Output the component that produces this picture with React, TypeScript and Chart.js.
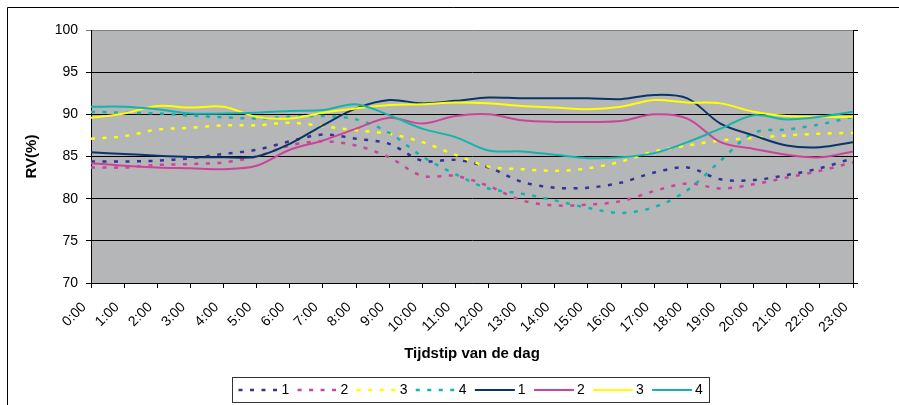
import React, { useEffect, useRef } from 'react';
import { Chart, registerables } from 'chart.js';

Chart.register(...registerables);

const FONT = '"Liberation Sans", Arial, Helvetica, sans-serif';

// Categories (hour of day)
const HOURS = [
  '0:00', '1:00', '2:00', '3:00', '4:00', '5:00', '6:00', '7:00', '8:00', '9:00', '10:00', '11:00',
  '12:00', '13:00', '14:00', '15:00', '16:00', '17:00', '18:00', '19:00', '20:00', '21:00', '22:00', '23:00',
];

// Y-axis range / ticks
const Y_MIN = 70;
const Y_MAX = 100;
const Y_STEP = 5;

// Dashed series (RV %)
const dashed1 = [84.4, 84.4, 84.5, 84.8, 85.3, 85.8, 86.8, 87.6, 87.1, 86.5, 84.5, 84.6, 83.7, 82.0, 81.3, 81.3, 81.9, 83.1, 83.7, 82.3, 82.2, 82.8, 83.6, 84.8];
const dashed2 = [83.7, 83.7, 84.0, 84.1, 84.3, 85.0, 86.3, 86.8, 86.3, 84.9, 82.7, 82.7, 81.5, 79.8, 79.2, 79.3, 79.7, 80.9, 81.8, 81.2, 81.7, 82.5, 83.3, 84.3];
const dashed3 = [87.1, 87.4, 88.2, 88.4, 88.7, 88.7, 89.0, 88.6, 88.1, 87.7, 86.7, 85.2, 83.8, 83.5, 83.3, 83.6, 84.4, 85.6, 86.3, 86.9, 87.2, 87.5, 87.7, 87.8];
const dashed4 = [90.3, 90.2, 90.1, 89.85, 89.65, 89.5, 89.7, 89.8, 89.4, 87.8, 85.0, 82.9, 81.2, 80.6, 79.8, 78.9, 78.3, 79.0, 81.0, 84.5, 87.8, 88.2, 88.8, 89.7];

// Solid series (RV %)
const solid1 = [85.5, 85.3, 85.1, 84.95, 84.9, 85.0, 86.5, 88.7, 90.7, 91.7, 91.3, 91.6, 92.0, 91.9, 91.9, 91.9, 91.8, 92.3, 91.9, 88.9, 87.5, 86.3, 86.1, 86.7];
const solid2 = [84.2, 83.9, 83.7, 83.6, 83.5, 83.9, 85.8, 86.9, 88.3, 89.6, 88.9, 89.8, 90.0, 89.3, 89.1, 89.1, 89.2, 90.0, 89.5, 86.7, 85.9, 85.2, 84.9, 85.6];
const solid3 = [89.6, 90.1, 91.0, 90.8, 90.9, 89.7, 89.5, 90.2, 90.7, 91.1, 91.2, 91.4, 91.3, 91.0, 90.8, 90.6, 90.9, 91.7, 91.4, 91.3, 90.3, 89.8, 89.7, 89.7];
const solid4 = [90.9, 90.9, 90.6, 90.1, 90.1, 90.2, 90.4, 90.5, 91.2, 89.9, 88.3, 87.3, 85.7, 85.6, 85.2, 84.8, 84.9, 85.4, 86.7, 88.3, 89.9, 89.4, 89.7, 90.3];

const SERIES_LABELS = ['1', '2', '3', '4', '1', '2', '3', '4'];

const NAVY_DASH = '#333399';
const PINK = '#CC4499';
const YELLOW = '#FFFF00';
const TEAL = '#14B4AE';
const NAVY = '#0B3566';
const PLOT_BG = '#b4b6b8';
const DASH = [4, 7.5];

const framePlugin = {
  id: 'frameAndBg',
  beforeDraw(chart: any) {
    const { ctx, chartArea: a } = chart;
    ctx.save();
    ctx.fillStyle = '#ffffff';
    ctx.fillRect(0, 0, chart.width, chart.height);
    ctx.strokeStyle = '#000';
    ctx.lineWidth = 1;
    ctx.beginPath();
    ctx.moveTo(7.5, chart.height);
    ctx.lineTo(7.5, 7.5);
    ctx.lineTo(chart.width, 7.5);
    ctx.stroke();
    ctx.fillStyle = PLOT_BG;
    ctx.fillRect(a.left, a.top, a.right - a.left, a.bottom - a.top);
    ctx.restore();
  },
};

const boxLegendPlugin = {
  id: 'boxLegend',
  afterDraw(chart: any) {
    const { ctx, chartArea: a } = chart;
    const items = chart.data.datasets;
    ctx.save();
    ctx.font = `14px ${FONT}`;
    const sampleW = 40;
    const gap = 3;
    const spacing = 8.3;
    const padL = 6;
    const padR = 6.7;
    const widths = items.map((ds: any) => sampleW + gap + ctx.measureText(ds.label).width);
    const total = padL + padR + widths.reduce((s: number, w: number) => s + w, 0) + spacing * (items.length - 1);
    const cx = (a.left + a.right) / 2 - 1.3;
    const left = Math.round(cx - total / 2) + 0.5;
    const top = 377.5;
    const h = 25;
    ctx.strokeStyle = '#333';
    ctx.lineWidth = 1;
    ctx.strokeRect(left, top, Math.round(total), h);
    let x = left + padL;
    const cy = top + h / 2;
    items.forEach((ds: any, i: number) => {
      ctx.save();
      ctx.strokeStyle = ds.borderColor;
      ctx.lineWidth = ds.borderWidth;
      ctx.setLineDash(ds.borderDash || []);
      ctx.beginPath();
      ctx.moveTo(x, Math.round(cy));
      ctx.lineTo(x + sampleW, Math.round(cy));
      ctx.stroke();
      ctx.restore();
      ctx.fillStyle = '#000';
      ctx.textAlign = 'left';
      ctx.textBaseline = 'middle';
      ctx.fillText(ds.label, x + sampleW + gap, cy + 0.5);
      x += widths[i] + spacing;
    });
    ctx.restore();
  },
};

export default function App() {
  const canvasRef = useRef<HTMLCanvasElement | null>(null);

  useEffect(() => {
    const canvas = canvasRef.current;
    if (!canvas) return;

    const mk = (i: number, data: number[], color: string, dashed: boolean) => ({
      label: SERIES_LABELS[i],
      data,
      borderColor: color,
      backgroundColor: color,
      borderWidth: dashed ? 2.5 : 2,
      borderDash: dashed ? DASH : [],
      pointRadius: 0,
      pointHoverRadius: 0,
      tension: 0.33,
      fill: false,
      order: 7 - i,
    });

    const chart = new Chart(canvas, {
      type: 'line',
      data: {
        labels: HOURS,
        datasets: [
          mk(0, dashed1, NAVY_DASH, true),
          mk(1, dashed2, PINK, true),
          mk(2, dashed3, YELLOW, true),
          mk(3, dashed4, TEAL, true),
          mk(4, solid1, NAVY, false),
          mk(5, solid2, PINK, false),
          mk(6, solid3, YELLOW, false),
          mk(7, solid4, TEAL, false),
        ] as any,
      },
      options: {
        animation: false,
        responsive: false,
        devicePixelRatio: 1,
        layout: { padding: { top: 30, left: 0, right: 0, bottom: 0 } },
        plugins: {
          legend: { display: false },
          tooltip: { enabled: false },
        },
        scales: {
          x: {
            type: 'category',
            offset: false,
            grid: { drawOnChartArea: false, drawTicks: true, tickLength: 5, color: '#000', lineWidth: 1 },
            border: { display: true, color: '#000', width: 1 },
            ticks: {
              autoSkip: false,
              maxRotation: 45,
              minRotation: 45,
              padding: 11,
              labelOffset: -7,
              color: '#000',
              font: { size: 14, family: FONT },
            },
            title: {
              display: true,
              text: 'Tijdstip van de dag',
              color: '#000',
              font: { size: 15, weight: 'bold', family: FONT },
              padding: { top: 0, bottom: 42 },
            },
            afterFit(scale: any) {
              scale.height = 122;
            },
          },
          y: {
            min: Y_MIN,
            max: Y_MAX,
            ticks: { stepSize: Y_STEP, padding: 8, color: '#000', font: { size: 14, family: FONT } },
            grid: {
              color: (c: any) => (c.tick && c.tick.value === Y_MAX ? '#7f7f7f' : '#000'),
              tickLength: 5,
              lineWidth: 1,
            },
            border: { display: true, color: '#000', width: 1 },
            title: {
              display: true,
              text: 'RV(%)',
              color: '#000',
              font: { size: 15, weight: 'bold', family: FONT },
              padding: { top: 23, bottom: 0 },
            },
            afterFit(scale: any) {
              scale.width = 91;
            },
          },
          y2: {
            position: 'right',
            min: Y_MIN,
            max: Y_MAX,
            ticks: { display: false, stepSize: Y_STEP },
            grid: { drawOnChartArea: false, drawTicks: true, tickLength: 5, color: '#000' },
            border: { display: true, color: '#000', width: 1 },
            afterFit(scale: any) {
              scale.width = 46;
            },
          },
        },
      } as any,
      plugins: [framePlugin, boxLegendPlugin],
    });

    return () => chart.destroy();
  }, []);

  return (
    <div style={{ position: 'absolute', left: 0, top: 0, width: 899, height: 405, background: '#fff' }}>
      <canvas ref={canvasRef} width={899} height={405} style={{ display: 'block', width: 899, height: 405 }} />
    </div>
  );
}
